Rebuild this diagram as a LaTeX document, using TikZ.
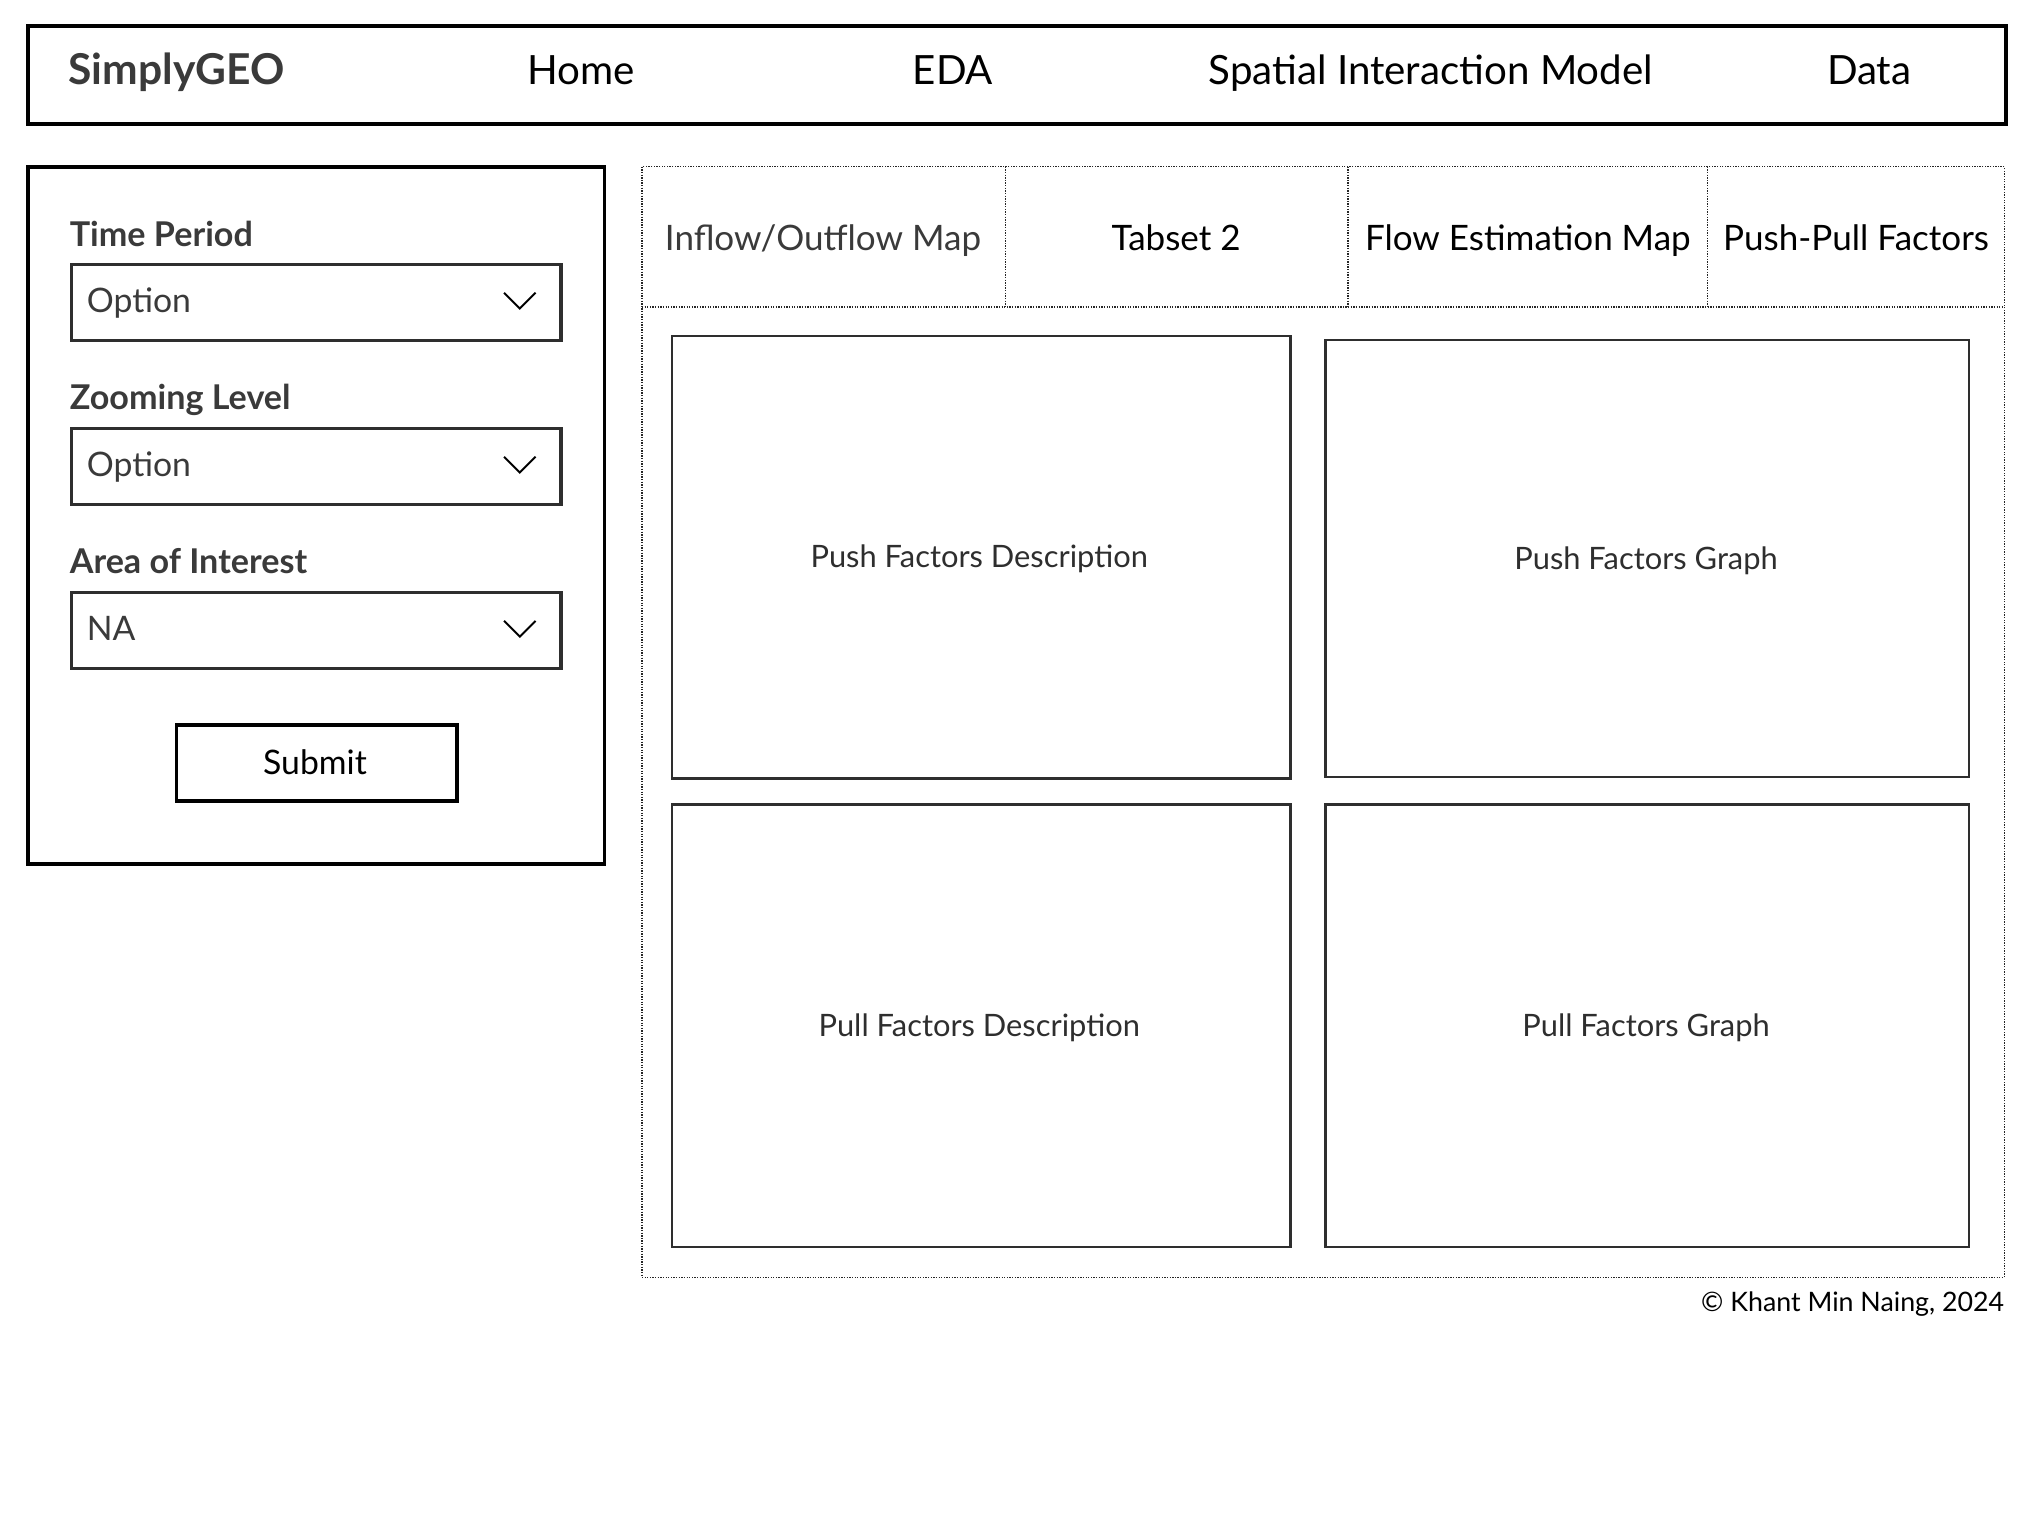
\documentclass[tikz,border=0pt]{standalone}
\usepackage{fontspec}
\setmainfont{Lato}
\definecolor{txtgray}{HTML}{3A3A3A}
\definecolor{boxgray}{HTML}{2E2E2E}
\begin{document}
\begin{tikzpicture}[x=1pt,y=-1pt,
  outerbox/.style={draw=black,line width=3pt,anchor=north west,inner sep=0pt},
  fieldbox/.style={draw=boxgray,line width=2.6pt,anchor=north west,inner sep=0pt},
  cardbox/.style={draw=boxgray,line width=2pt,anchor=north west,inner sep=0pt},
  dotline/.style={draw=black!85,line width=1pt,dash pattern=on 1pt off 1pt},
  navtxt/.style={font=\fontsize{30.7}{36}\selectfont,text=black,inner sep=0pt,anchor=base},
  brandtxt/.style={font=\fontsize{32.4}{38}\selectfont\bfseries,text=txtgray,inner sep=0pt,anchor=base west},
  labeltxt/.style={font=\fontsize{26}{31}\selectfont\bfseries,text=txtgray,inner sep=0pt,anchor=base west},
  opttxt/.style={font=\fontsize{25.7}{30}\selectfont,text=txtgray,inner sep=0pt,anchor=base west},
  tabtxt/.style={font=\fontsize{26.7}{31}\selectfont,text=black,inner sep=0pt,anchor=base},
  cardtxt/.style={font=\fontsize{23.5}{28}\selectfont,text=boxgray,inner sep=0pt,anchor=base},
  chev/.style={draw=black,line width=1.5pt}
]
\useasboundingbox (0,0) rectangle (1545,1158.75);
\fill[white] (0,0) rectangle (1545,1158.75);

% top bar
\node[outerbox,minimum width=1507,minimum height=75] (bar) at (20,18) {};
\node[brandtxt] (brand) at (52,64) {SimplyGEO};
\node[navtxt] (home) at (443,64) {Home};
\node[navtxt] (eda) at (726,64) {EDA};
\node[navtxt] (sim) at (1090,64) {Spatial Interaction Model};
\node[navtxt] (data) at (1424,64) {Data};

% sidebar
\node[outerbox,minimum width=439,minimum height=531] (side) at (20,126) {};
\node[labeltxt] (l1) at (53,188) {Time Period};
\node[fieldbox,minimum width=373,minimum height=58] (f1) at (53,200) {};
\node[opttxt] (o1) at (66,238) {Option};
\draw[chev] (384,223) -- (396,235) -- (408,223);
\node[labeltxt] (l2) at (53,312) {Zooming Level};
\node[fieldbox,minimum width=373,minimum height=58] (f2) at (53,325) {};
\node[opttxt] (o2) at (66,363) {Option};
\draw[chev] (384,348) -- (396,360) -- (408,348);
\node[labeltxt] (l3) at (53,437) {Area of Interest};
\node[fieldbox,minimum width=373,minimum height=58] (f3) at (53,450) {};
\node[opttxt] (o3) at (66,488) {NA};
\draw[chev] (384,473) -- (396,485) -- (408,473);
\node[fieldbox,draw=black,minimum width=214,minimum height=58] (sub) at (133,551) {};
\node[opttxt,anchor=base,text=black] (subt) at (240,590) {Submit};

% main panel
\coordinate (pnw) at (489,127);
\coordinate (pse) at (1527,973);
\draw[dotline] (pnw) rectangle (pse);
\coordinate (hl) at (489,234);
\coordinate (hr) at (1527,234);
\draw[dotline] (hl) -- (hr);
\coordinate (d1t) at (766,127); \coordinate (d1b) at (766,234);
\coordinate (d2t) at (1027,127); \coordinate (d2b) at (1027,234);
\coordinate (d3t) at (1301,127); \coordinate (d3b) at (1301,234);
\draw[dotline] (d1t) -- (d1b);
\draw[dotline] (d2t) -- (d2b);
\draw[dotline] (d3t) -- (d3b);
\node[tabtxt,text=txtgray] (t1) at (627,190.5) {Inflow/Outflow Map};
\node[tabtxt] (t2) at (896,190.5) {Tabset 2};
\node[tabtxt] (t3) at (1164,190.5) {Flow Estimation Map};
\node[tabtxt] (t4) at (1414,190.5) {Push-Pull Factors};

% cards
\node[cardbox,minimum width=471,minimum height=337] (c1) at (511,255) {};
\node[cardtxt] at (746,432.5) {Push Factors Description};
\node[cardbox,minimum width=490,minimum height=333] (c2) at (1009,258) {};
\node[cardtxt] at (1254,433.5) {Push Factors Graph};
\node[cardbox,minimum width=471,minimum height=337] (c3) at (511,612) {};
\node[cardtxt] at (746,789.5) {Pull Factors Description};
\node[cardbox,minimum width=490,minimum height=337] (c4) at (1009,612) {};
\node[cardtxt] at (1254,789.5) {Pull Factors Graph};

% footer
\node[font=\fontsize{20.4}{24}\selectfont,text=black,inner sep=0pt,anchor=base east] (copy) at (1527,999) {© Khant Min Naing, 2024};
\end{tikzpicture}
\end{document}
